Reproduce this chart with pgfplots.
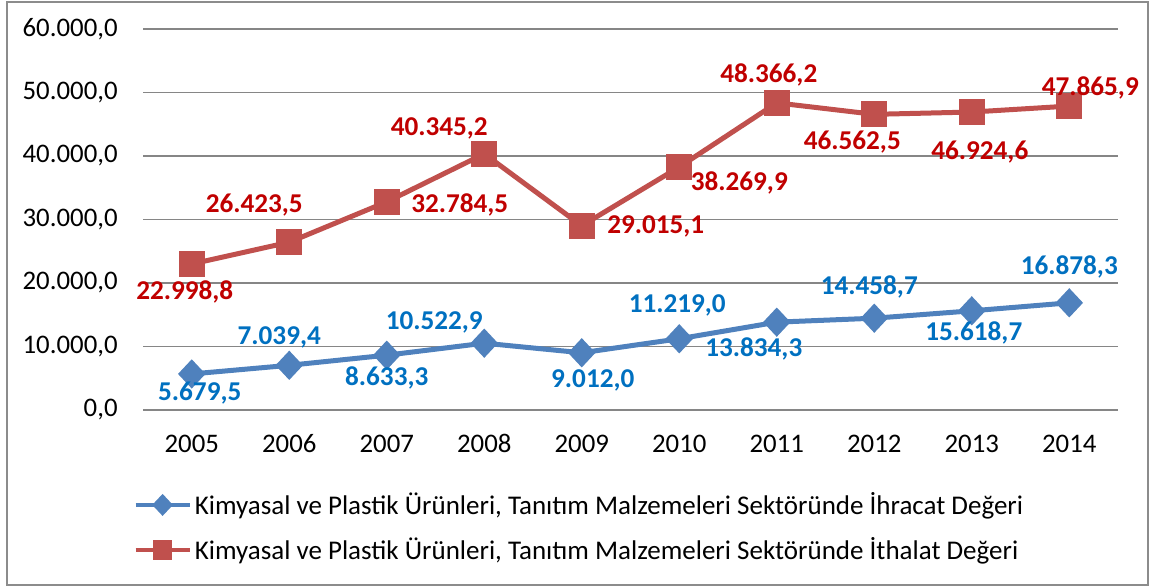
\documentclass[border=0pt]{standalone}
\usepackage{pgfplots}
\pgfplotsset{compat=1.18}
\usepackage{fontspec}
\setmainfont{Carlito}
\definecolor{blueline}{HTML}{4F81BD}
\definecolor{redline}{HTML}{C0504D}
\definecolor{bluelab}{HTML}{0070C0}
\definecolor{redlab}{HTML}{C00000}
\definecolor{gridgray}{HTML}{868686}
\definecolor{framegray}{HTML}{8C8C8C}
\begin{document}
\begin{tikzpicture}
\useasboundingbox (0,0) rectangle (576.5bp,-294bp);
\draw[framegray, line width=1bp] (3.5bp,-0.8bp) rectangle (574bp,-292.5bp);
\begin{axis}[
  at={(71.5bp,-205bp)}, anchor=south west,
  scale only axis, width=487.5bp, height=190.5bp,
  xmin=-0.5, xmax=9.5, ymin=0, ymax=60000,
  scaled y ticks=false,
  xtick={0,...,9},
  xticklabels={2005,2006,2007,2008,2009,2010,2011,2012,2013,2014},
  ytick={0,10000,20000,30000,40000,50000,60000},
  yticklabels={{0,0},{10.000,0},{20.000,0},{30.000,0},{40.000,0},{50.000,0},{60.000,0}},
  ymajorgrids, grid style={gridgray, line width=0.7bp},
  axis line style={draw=none}, tick style={draw=none},
  ticklabel style={font=\fontsize{13.4bp}{16bp}\selectfont, inner sep=0pt, text=black},
  xticklabel style={anchor=base, yshift=-21bp},
  yticklabel style={anchor=east, xshift=-12.5bp},
  legend image code/.code={\draw[mark repeat=2,mark phase=2,#1] plot coordinates {(0bp,0bp) (13.5bp,0bp) (27bp,0bp)};},
  legend style={at={(0,0)}, anchor=north west, xshift=-5bp, yshift=-40bp,
    draw=none, fill=none, inner sep=0pt, row sep=8bp,
    font=\fontsize{13.5bp}{16bp}\selectfont,
    nodes={inner sep=1bp},
    /tikz/every odd column/.append style={column sep=0.5bp}},
  legend cell align=left,
  point meta=explicit symbolic,
  nodes near coords,
  visualization depends on={\thisrow{dx} \as \dx},
  visualization depends on={\thisrow{dy} \as \dy},
  every node near coord/.append style={anchor=center, inner sep=0pt, xshift=\dx bp, yshift=\dy bp,
    font=\fontsize{13.6bp}{16bp}\selectfont\bfseries},
]
\addplot[blueline, line width=2.5bp, mark=diamond*, mark size=5.5bp,
  mark options={xscale=1.25, solid, fill=blueline},
  legend image post style={mark size=3.9bp, line width=2.2bp},
  nodes near coords style={text=bluelab}]
  table[x=x, y=y, meta=label] {
x y label dx dy
0 5679.5 5.679,5 4 -9.5
1 7039.4 7.039,4 -5 14
2 8633.3 8.633,3 0 -11.5
3 10522.9 10.522,9 -25 10.5
4 9012.0 9.012,0 5.5 -14
5 11219.0 11.219,0 -1 16.5
6 13834.3 13.834,3 -11.5 -13.5
7 14458.7 14.458,7 -2.5 15.5
8 15618.7 15.618,7 1 -11
9 16878.3 16.878,3 0 18
};
\addlegendentry{Kimyasal ve Plastik Ürünleri, Tanıtım Malzemeleri Sektöründe İhracat Değeri}
\addplot[redline, line width=2.5bp, mark=square*, mark size=5.25bp,
  mark options={solid, fill=redline},
  legend image post style={mark size=3.8bp, line width=2.2bp},
  nodes near coords style={text=redlab}]
  table[x=x, y=y, meta=label] {
x y label dx dy
0 22998.8 22.998,8 -3.5 -14
1 26423.5 26.423,5 -17.5 18.5
2 32784.5 32.784,5 36.5 -1.5
3 40345.2 40.345,2 -22.5 12.5
4 29015.1 29.015,1 37 -0.5
5 38269.9 38.269,9 30 -8
6 48366.2 48.366,2 -4 14
7 46562.5 46.562,5 -11 -14
8 46924.6 46.924,6 4 -20
9 47865.9 47.865,9 10.5 9
};
\addlegendentry{Kimyasal ve Plastik Ürünleri, Tanıtım Malzemeleri Sektöründe İthalat Değeri}
\end{axis}
\end{tikzpicture}
\end{document}
